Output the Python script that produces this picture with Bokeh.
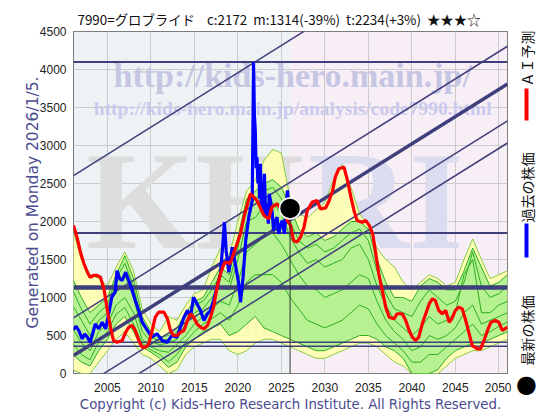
from bokeh.plotting import figure
from bokeh.models import Range1d, BoxAnnotation, Title
from bokeh.layouts import row
from bokeh.core.properties import value
from bokeh.embed import file_html
from bokeh.resources import INLINE

# ---------------- data ----------------
title_text = "7990=グロブライド\u00a0\u00a0\u00a0\u00a0c:2172\u00a0\u00a0m:1314(-39%)\u00a0\u00a0t:2234(+3%)\u00a0\u00a0★★★☆"
ylabel_text = "Generated on Monday 2026/1/5."
copyright_text = "Copyright (c) Kids-Hero Research Institute. All Rights Reserved."
legend_texts = ["ＡＩ予測", "過去の株価", "最新の株価"]

x_ticks = [2005, 2010, 2015, 2020, 2025, 2030, 2035, 2040, 2045, 2050]
y_ticks = [0, 500, 1000, 1500, 2000, 2500, 3000, 3500, 4000, 4500]

past_years = [2001.05, 2001.4, 2001.7, 2002.1, 2002.4, 2002.7, 2003.0, 2003.3, 2003.6, 2004.0,
              2004.4, 2004.8, 2005.15, 2005.5, 2005.9, 2006.1, 2006.4, 2006.7, 2007.1, 2007.45,
              2007.8, 2008.2, 2008.6, 2009.0, 2009.6, 2010.1, 2010.7, 2011.3, 2011.9, 2012.4,
              2013.0, 2013.4, 2013.8, 2014.2, 2014.55, 2014.9, 2015.3, 2015.7, 2016.1, 2016.5,
              2016.85, 2017.2, 2017.6, 2018.0, 2018.3, 2018.45, 2018.65, 2018.95, 2019.35, 2019.7,
              2020.1, 2020.3, 2020.6, 2020.9, 2021.25, 2021.65, 2021.8, 2021.9, 2022.0, 2022.1,
              2022.2, 2022.3, 2022.4, 2022.5, 2022.6, 2022.7, 2022.8, 2022.9, 2023.05, 2023.2,
              2023.4, 2023.5, 2023.6, 2023.75, 2023.95, 2024.1, 2024.3, 2024.5, 2024.7, 2024.9,
              2025.1, 2025.35, 2025.55, 2025.7, 2025.9, 2026.0]
past_price = [575, 620, 566, 457, 520, 478, 412, 520, 654, 588,
              675, 588, 786, 1004, 1070, 1355, 1250, 1224, 1333, 1224,
              1114, 961, 829, 675, 566, 478, 522, 434, 412, 500,
              478, 609, 741, 829, 741, 1004, 917, 829, 697, 786,
              829, 961, 1136, 1312, 1750, 1991, 1619, 1333, 1662, 1444,
              1180, 938, 1267, 1750, 2057, 2276, 4097, 3400, 3198, 2700,
              2846, 2500, 2671, 2300, 2758, 2200, 2452, 2100, 2628, 2050,
              2233, 1970, 2365, 2276, 2102, 1882, 2000, 2057, 1838, 1950,
              2013, 1838, 2200, 2408, 2102, 2172]

ai_years = [2001.1, 2001.5, 2001.9, 2002.3, 2002.7, 2003.0, 2003.4, 2003.8, 2004.2, 2004.6,
            2005.0, 2005.35, 2005.7, 2006.1, 2006.7, 2007.1, 2007.45, 2007.85, 2008.2, 2008.6,
            2009.0, 2009.4, 2009.75, 2010.1, 2010.5, 2010.9, 2011.5, 2011.9, 2012.25, 2012.6,
            2013.0, 2013.4, 2013.8, 2014.2, 2014.55, 2014.9, 2015.3, 2015.7, 2016.1, 2016.5,
            2016.85, 2017.2, 2017.6, 2018.0, 2018.4, 2018.75, 2019.1, 2019.5, 2019.9, 2020.3,
            2020.7, 2021.1, 2021.45, 2022.2, 2023.0, 2023.55, 2023.9, 2024.5, 2025.1, 2025.7,
            2026.05, 2026.4, 2026.8, 2027.2, 2027.6, 2027.98, 2028.55, 2029.1, 2029.5, 2030.1,
            2030.5, 2030.9, 2031.2, 2031.6, 2032.2, 2032.6, 2033.0, 2033.35, 2033.7, 2034.3,
            2034.7, 2035.1, 2035.5, 2035.8, 2036.2, 2036.6, 2037.0, 2037.4, 2037.95, 2038.3,
            2038.9, 2039.3, 2039.7, 2040.05, 2040.45, 2040.8, 2041.2, 2041.6, 2042.0, 2042.35,
            2042.7, 2043.1, 2043.5, 2043.9, 2044.3, 2044.6, 2045.0, 2045.4, 2045.8, 2046.2,
            2046.6, 2046.95, 2047.55, 2047.9, 2048.3, 2048.7, 2049.1, 2049.6, 2050.0, 2050.4,
            2051.0]
ai_price = [1948, 1794, 1597, 1444, 1333, 1267, 1290, 1290, 1267, 1114,
            829, 609, 434, 412, 434, 543, 609, 632, 566, 434,
            346, 346, 391, 543, 741, 807, 807, 719, 566, 500,
            500, 543, 566, 697, 786, 741, 654, 609, 587, 632,
            741, 873, 1136, 1312, 1444, 1465, 1444, 1575, 1707, 1838,
            2057, 2233, 2365, 2276, 2079, 2036, 2190, 2233, 2145, 2013,
            1948, 1750, 1728, 1794, 1925, 2145, 2255, 2276, 2167, 2180,
            2276, 2408, 2583, 2693, 2715, 2540, 2320, 2145, 2013, 1991,
            2013, 1948, 1838, 1619, 1312, 1092, 873, 741, 719, 786,
            786, 697, 566, 478, 434, 478, 654, 786, 917, 983,
            961, 829, 786, 829, 675, 719, 829, 873, 851, 697,
            522, 368, 325, 325, 434, 566, 675, 697, 675, 566,
            609]

band_years = list(range(2001, 2052))
yellow_hi = [1900, 1500, 1300, 1250, 1150, 1400, 1600, 1350, 850, 650,
             550, 750, 700, 900, 1050, 1100, 1400, 1650, 1550, 2000,
             2400, 2550, 2800, 2950, 2900, 2300, 2100, 2050, 2150, 2250,
             2550, 2750, 2450, 2100, 1950, 1650, 1500, 1400, 1200, 1100,
             1200, 1300, 1250, 1150, 1200, 1500, 1770, 1500, 1250, 1300,
             1350]
green_hi = [1250, 1000, 800, 900, 1000, 1300, 1550, 1250, 750, 550,
            480, 500, 600, 800, 950, 1000, 1200, 1400, 1300, 1800,
            2300, 2400, 2500, 2550, 2450, 2200, 1900, 1800, 1850, 1750,
            1800, 1900, 2000, 2000, 1900, 1500, 1200, 1000, 1000, 950,
            1150, 1250, 1200, 1100, 1100, 1350, 1650, 1400, 1150, 1200,
            1300]
green_lo = [250, 150, 100, 300, 450, 650, 750, 550, 350, 280,
            200, 80, 150, 350, 450, 550, 600, 650, 500, 550,
            650, 750, 600, 550, 500, 450, 400, 350, 300, 300,
            350, 400, 450, 500, 500, 450, 350, 300, 200, 0,
            0, 0, 50, 200, 300, 350, 400, 400, 450, 500,
            550]
yellow_lo = [50, 0, 0, 150, 300, 450, 550, 400, 250, 200,
             100, 0, 50, 250, 350, 400, 450, 450, 300, 250,
             300, 400, 450, 450, 400, 350, 300, 250, 200, 200,
             250, 300, 350, 400, 400, 350, 250, 150, 100, 0,
             0, 0, 0, 100, 200, 250, 300, 300, 350, 400,
             450]
path_a = [900, 700, 500, 700, 800, 1200, 1300, 1000, 550, 420,
          380, 400, 450, 650, 800, 850, 1000, 1150, 1100, 1500,
          2000, 2050, 2200, 2250, 2100, 1800, 1600, 1450, 1500, 1400,
          1450, 1500, 1650, 1700, 1500, 1150, 900, 700, 600, 500,
          600, 750, 650, 700, 800, 1300, 1500, 800, 800, 900,
          950]
path_b = [600, 400, 300, 550, 650, 900, 1000, 800, 450, 350,
          300, 280, 380, 500, 650, 750, 850, 950, 900, 1200,
          1600, 1700, 1800, 1850, 1700, 1500, 1300, 1150, 1100, 1000,
          1050, 1100, 1200, 1300, 1250, 950, 700, 550, 450, 300,
          350, 500, 450, 500, 600, 800, 900, 650, 700, 750,
          800]
path_c = [1100, 850, 650, 800, 900, 1250, 1450, 1150, 650, 480,
          430, 450, 550, 750, 900, 950, 1100, 1300, 1200, 1650,
          2200, 2300, 2400, 2450, 2300, 2000, 1750, 1650, 1700, 1600,
          1650, 1750, 1850, 1900, 1750, 1350, 1050, 850, 800, 750,
          950, 1100, 1000, 900, 950, 1200, 1600, 1150, 1000, 1050,
          1150]
path_d = [400, 250, 180, 420, 550, 780, 870, 650, 400, 310,
          250, 150, 250, 420, 550, 650, 720, 800, 700, 900,
          1200, 1300, 1300, 1300, 1200, 1000, 850, 700, 650, 600,
          650, 700, 800, 900, 850, 650, 500, 400, 300, 150,
          150, 250, 250, 350, 450, 550, 650, 500, 550, 620,
          680]

support_levels = [4100, 1850, 1130, 410, 360]
trend_start_values = [2605, 733, 237, -250, -540]   # at 2001.1
trend_slope = 71.6                                   # per year

last_year = 2026.0
last_price = 2172

# ---------------- main figure ----------------
X0, X1 = 2001.1, 2051.0
FW, FH, FL, FT, FB = 434, 342, 73, 31, 43
MAIN_W = FL + FW + 4
TOTAL_H = FT + FH + FB
p = figure(frame_width=FW, frame_height=FH, x_range=Range1d(X0, X1), y_range=Range1d(0, 4500),
           output_backend="svg", toolbar_location=None,
           min_border_left=FL, min_border_right=4, min_border_top=FT, min_border_bottom=FB)
p.background_fill_color = "white"
p.border_fill_color = "white"
p.outline_line_color = "#555555"

p.title = Title(text=title_text, align="left", offset=4, standoff=5,
                text_font="Noto Sans CJK JP", text_font_size="13.4px", text_font_style="normal",
                text_color="#111111")
p.add_layout(Title(text=copyright_text, align="center", standoff=1,
                   text_font="DejaVu Sans", text_font_size="13.3px", text_font_style="normal",
                   text_color="#4b4b8f"), "below")

p.add_layout(BoxAnnotation(left=X0, right=last_year, fill_color="#edf3f5", fill_alpha=1.0,
                           line_color=None, level="image"))
p.add_layout(BoxAnnotation(left=last_year, right=X1, fill_color="#f8eef6", fill_alpha=1.0,
                           line_color=None, level="image"))

p.xgrid.ticker = x_ticks
p.ygrid.ticker = y_ticks
p.grid.grid_line_color = "#cccccc"
p.grid.grid_line_width = 1

p.xaxis.ticker = x_ticks
p.yaxis.ticker = y_ticks
for ax in (p.xaxis, p.yaxis):
    ax.axis_line_color = None
    ax.major_tick_line_color = None
    ax.minor_tick_line_color = None
    ax.major_tick_out = 0
    ax.major_tick_in = 0
    ax.minor_tick_out = 0
    ax.major_label_text_font = "Liberation Sans"
    ax.major_label_text_font_size = "12px"
    ax.major_label_text_color = "#222222"
p.yaxis.major_label_standoff = 7
p.xaxis.major_label_standoff = 9
p.yaxis.axis_label = ylabel_text
p.yaxis.axis_label_text_font = "DejaVu Sans"
p.yaxis.axis_label_text_font_size = "15.5px"
p.yaxis.axis_label_text_font_style = "normal"
p.yaxis.axis_label_text_color = "#4b4b8f"
p.yaxis.axis_label_standoff = -5

# watermarks
wm_font = value("Liberation Serif")
p.text(x=[2026.3], y=[3922], text=["http://kids-hero.main.jp/"], text_font=wm_font,
       text_font_style="bold", text_font_size=value("34px"), text_color="#c6c6e4",
       text_align="center", text_baseline="middle")
p.text(x=[2026.3], y=[3487], text=["http://kids-hero.main.jp/analysis/code7990.html"], text_font=wm_font,
       text_font_style="bold", text_font_size=value("19.5px"), text_color="#cacaee",
       text_align="center", text_baseline="middle")
p.text(x=[2015.1], y=[2277], text=["KH"], text_font=wm_font, text_font_style="bold",
       text_font_size=value("140px"), text_color="#dddddd", text_align="center", text_baseline="middle")
p.text(x=[2037.0], y=[2277], text=["RI"], text_font=wm_font, text_font_style="bold",
       text_font_size=value("140px"), text_color="#dcdcf0", text_align="center", text_baseline="middle")
p.text(x=[2026.1], y=[632], text=["Kids-hero.main.jp"], text_font=wm_font, text_font_style="bold",
       text_font_size=value("30px"), text_color="#c4c4dc", text_align="center", text_baseline="middle")

# forecast bands
p.varea(x=band_years, y1=yellow_lo, y2=yellow_hi, fill_color="#ffffb0", fill_alpha=0.9)
p.varea(x=band_years, y1=green_lo, y2=green_hi, fill_color="#aef08e", fill_alpha=0.9)
for series in (yellow_hi, yellow_lo):
    p.line(band_years, series, line_color="#88cc44", line_width=1)
for series in (green_hi, green_lo, path_a, path_b, path_c, path_d):
    p.line(band_years, series, line_color="#2fae1f", line_width=1)

# support / resistance lines
hw = [2, 2, 4.5, 1.5, 1.5]
p.segment(x0=[X0] * len(support_levels), y0=support_levels, x1=[X1] * len(support_levels),
          y1=support_levels, line_color="#3f3f7c", line_width=hw)
tw = [1.5, 1.5, 3.5, 1.5, 1.5]
ty1 = [b + trend_slope * (X1 - X0) for b in trend_start_values]
p.segment(x0=[X0] * len(trend_start_values), y0=trend_start_values, x1=[X1] * len(trend_start_values),
          y1=ty1, line_color="#3f3f7c", line_width=tw)

# price lines
p.line(past_years, past_price, line_color="#0000ff", line_width=3.2)
p.line(ai_years, ai_price, line_color="#ff0000", line_width=3.2)

# latest price
p.segment(x0=[last_year], y0=[0], x1=[last_year], y1=[last_price], line_color="#333333", line_width=1)
p.scatter(x=[last_year], y=[last_price], size=21, fill_color="black", line_color="white", line_width=1.5)

# ---------------- legend column: narrow companion figure in page-pixel coordinates ----------------
LW = 30
lg = figure(width=LW, height=TOTAL_H, x_range=Range1d(MAIN_W, MAIN_W + LW),
            y_range=Range1d(FT + FH, FT), y_axis_type=None,
            output_backend="svg", toolbar_location=None,
            min_border_left=0, min_border_right=0, min_border_top=FT, min_border_bottom=FB)
lg.outline_line_color = None
lg.background_fill_color = "white"
lg.border_fill_color = "white"
lg.grid.visible = False
LX = 526
lg.text(x=[LX, LX, LX], y=[58, 187, 330], text=legend_texts, angle=90, angle_units="deg",
        text_font=value("Noto Sans CJK JP"), text_font_size=value("14px"), text_color="#111111",
        text_align="center", text_baseline="middle")
lg.segment(x0=[LX], y0=[88], x1=[LX], y1=[120], line_color="#ff0000", line_width=4)
lg.segment(x0=[LX], y0=[223], x1=[LX], y1=[257], line_color="#0000ff", line_width=4)
# the dot sits just below the frame edge: drawn as the single tick label of the legend's x axis
lg.xaxis.ticker = [LX]
lg.xaxis.major_label_overrides = {LX: "●"}
lg.xaxis.major_label_text_font = "DejaVu Sans"
lg.xaxis.major_label_text_font_size = "24px"
lg.xaxis.major_label_text_color = "black"
lg.xaxis.major_label_standoff = -4
lg.xaxis.major_tick_out = 0
lg.xaxis.major_tick_in = 0
lg.xaxis.minor_tick_out = 0
lg.xaxis.major_tick_line_color = None
lg.xaxis.minor_tick_line_color = None
lg.xaxis.axis_line_color = None

layout = row(p, lg, spacing=0)
open("out.html", "w").write(file_html(layout, INLINE))
